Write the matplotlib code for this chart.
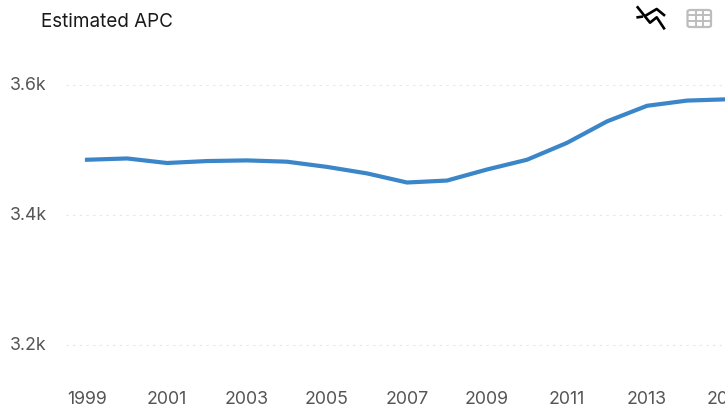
import matplotlib
matplotlib.use('Agg')
import matplotlib.pyplot as plt
from matplotlib.lines import Line2D
from matplotlib.patches import FancyBboxPatch

years = [1999, 2000, 2001, 2002, 2003, 2004, 2005, 2006, 2007, 2008,
         2009, 2010, 2011, 2012, 2013, 2014, 2015]
apc = [3485, 3487, 3480, 3483, 3484, 3482, 3474, 3464, 3450, 3453,
       3470, 3485, 3511, 3544, 3568, 3576, 3578]
x_ticks = [1999, 2001, 2003, 2005, 2007, 2009, 2011, 2013, 2015]
y_ticks = [3200, 3400, 3600]
y_labels = ['3.2k', '3.4k', '3.6k']

W, H = 725, 411
plt.rcParams['font.family'] = ['Inter', 'DejaVu Sans']

fig = plt.figure(figsize=(W / 100, H / 100), dpi=100)

# axes box in pixels, runs a little past the right edge so 2015 still gets a tick
left, right, top, bottom = 66, 728, 60, 372
ax = fig.add_axes([left / W, 1 - bottom / H, (right - left) / W, (bottom - top) / H])

ax.grid(axis='y', color='#e6e6e6', linewidth=0.8, linestyle=(0, (2, 4)))
ax.set_axisbelow(True)
ax.plot(years, apc, color='#3b86c9', linewidth=3.0, solid_joinstyle='round')

for side in ax.spines.values():
    side.set_visible(False)
ax.set_xticks(x_ticks)
ax.set_yticks(y_ticks)
ax.set_yticklabels(y_labels)
ax.set_xlim(1999 + (left - 87) / 40, 1999 + (right - 87) / 40)
ax.set_ylim(3600 - (bottom - 85) / 0.65, 3600 - (top - 85) / 0.65)
ax.tick_params(axis='both', length=0, labelsize=12.8, labelcolor='#555555')
ax.tick_params(axis='x', pad=13.5)
ax.tick_params(axis='y', pad=14)
for lab in ax.get_yticklabels():
    lab.set_y(lab.get_position()[1])
    lab.set_verticalalignment('center')

fig.text(41 / W, 1 - 22 / H, 'Estimated APC', fontsize=13.6, color='#1a1a1a',
         ha='left', va='center')


def px_line(xs, ys, color, lw):
    fig.add_artist(Line2D([v / W for v in xs], [1 - v / H for v in ys],
                          color=color, linewidth=lw, transform=fig.transFigure))


# chart toggle icon
px_line([637.7, 650, 656.7, 664], [7.3, 22.7, 17.3, 28.3], 'black', 1.9)
px_line([637.7, 641.7], [17.3, 16.7], 'black', 1.9)
px_line([646.7, 656.7, 664], [15, 9, 15], 'black', 1.9)

# table toggle icon
grey = '#bdbdbd'
fig.add_artist(FancyBboxPatch((687.5 / W, 1 - 27 / H), 23.5 / W, 17 / H,
                              boxstyle='round,pad=0,rounding_size=0.004',
                              transform=fig.transFigure, facecolor='none',
                              edgecolor=grey, linewidth=1.6))
px_line([687.5, 711], [15, 15], grey, 1.4)
px_line([687.5, 711], [21, 21], grey, 1.4)
px_line([695.5, 695.5], [10, 27], grey, 1.4)
px_line([703, 703], [10, 27], grey, 1.4)

fig.savefig('out.png', dpi=100)
